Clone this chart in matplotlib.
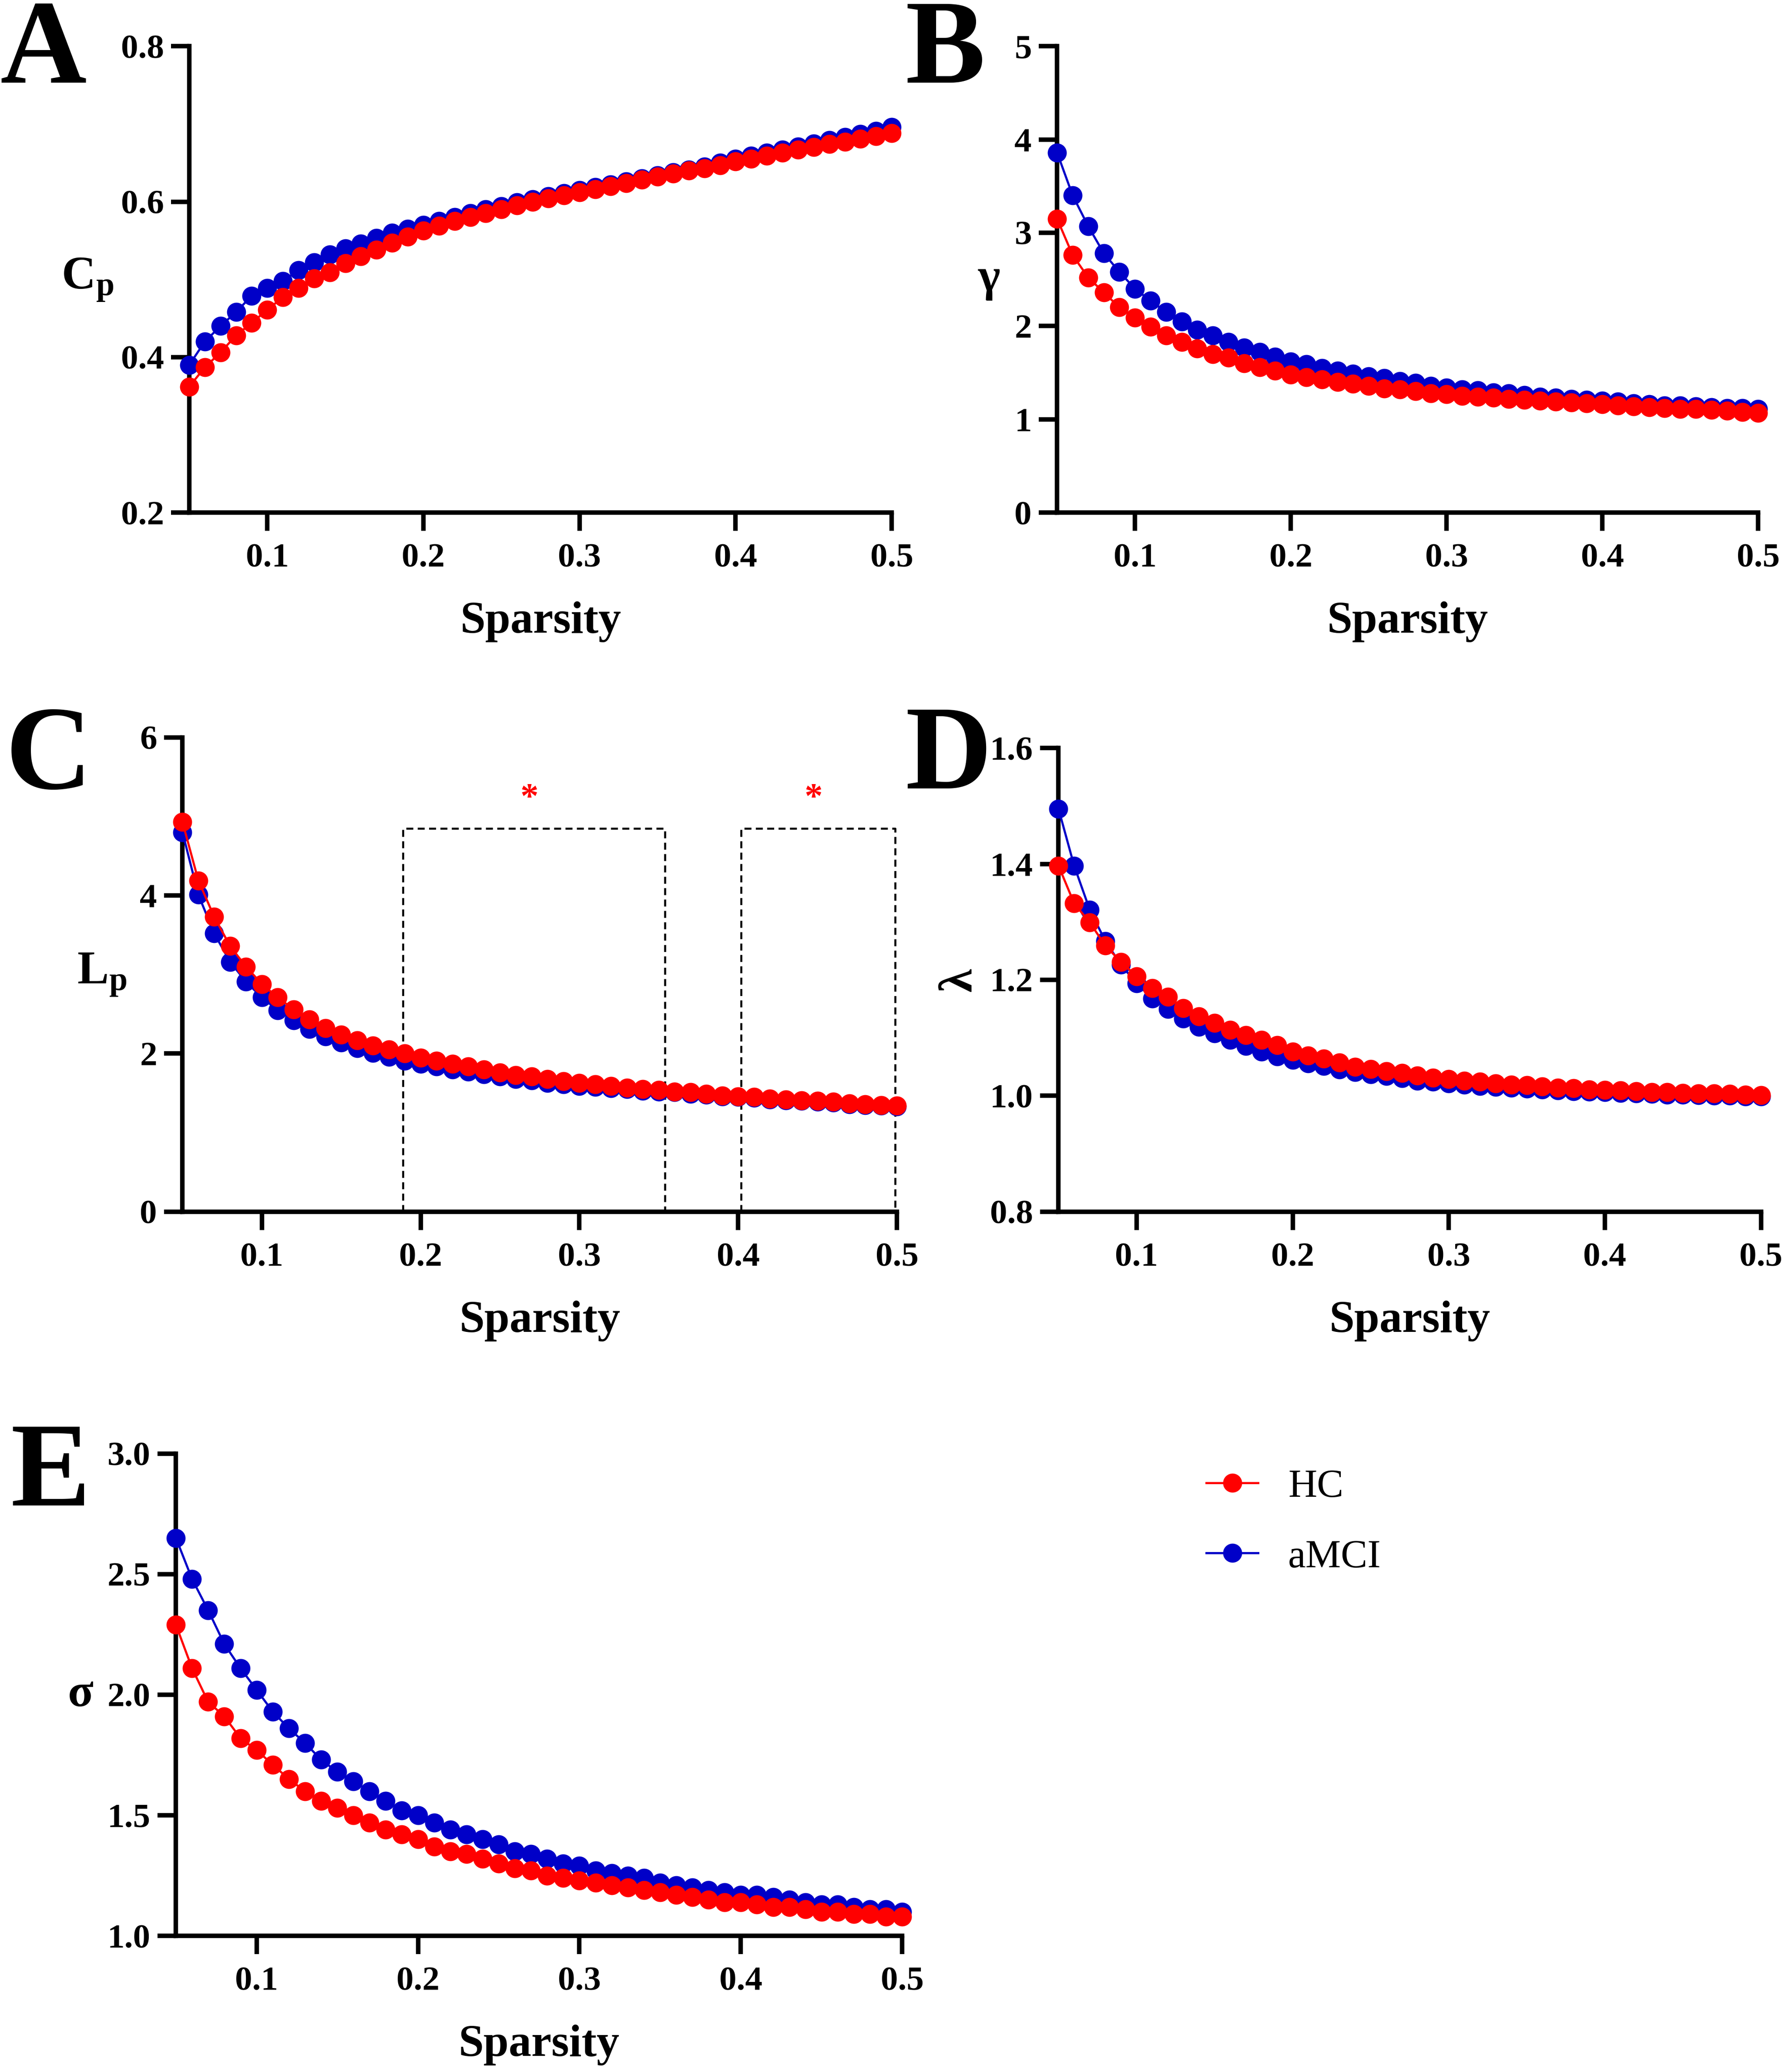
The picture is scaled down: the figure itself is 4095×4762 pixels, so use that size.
"""Small-world network metrics across sparsity thresholds: HC vs aMCI."""

import matplotlib
matplotlib.use("Agg")
import matplotlib.pyplot as plt
import numpy as np

# %% Data
sparsity = np.round(np.linspace(0.05, 0.50, 46), 2)

cp_hc = [0.362, 0.387, 0.406, 0.428, 0.444, 0.461, 0.477, 0.489, 0.501, 0.509,
         0.521, 0.530, 0.538, 0.547, 0.555, 0.563, 0.569, 0.575, 0.580, 0.585,
         0.590, 0.595, 0.600, 0.604, 0.608, 0.612, 0.616, 0.620, 0.624, 0.628,
         0.632, 0.636, 0.640, 0.643, 0.647, 0.652, 0.655, 0.659, 0.663, 0.667,
         0.670, 0.674, 0.677, 0.681, 0.684, 0.688]
cp_amci = [0.390, 0.420, 0.440, 0.458, 0.479, 0.489, 0.498, 0.512, 0.522, 0.532,
           0.540, 0.546, 0.553, 0.560, 0.565, 0.570, 0.575, 0.580, 0.585, 0.590,
           0.594, 0.599, 0.603, 0.607, 0.611, 0.615, 0.619, 0.622, 0.626, 0.630,
           0.634, 0.638, 0.641, 0.645, 0.650, 0.655, 0.659, 0.663, 0.667, 0.671,
           0.675, 0.679, 0.683, 0.687, 0.691, 0.696]

gamma_hc = [3.15, 2.76, 2.52, 2.36, 2.20, 2.09, 1.99, 1.90, 1.83, 1.76,
            1.70, 1.66, 1.60, 1.56, 1.52, 1.48, 1.45, 1.43, 1.40, 1.38,
            1.36, 1.33, 1.32, 1.30, 1.28, 1.27, 1.25, 1.24, 1.23, 1.22,
            1.21, 1.20, 1.19, 1.18, 1.17, 1.16, 1.15, 1.14, 1.13, 1.12,
            1.11, 1.11, 1.10, 1.09, 1.08, 1.07]
gamma_amci = [3.86, 3.40, 3.07, 2.78, 2.58, 2.40, 2.27, 2.15, 2.05, 1.96,
              1.90, 1.83, 1.77, 1.72, 1.67, 1.62, 1.59, 1.55, 1.52, 1.49,
              1.46, 1.44, 1.41, 1.39, 1.36, 1.34, 1.32, 1.31, 1.29, 1.28,
              1.26, 1.24, 1.23, 1.22, 1.21, 1.20, 1.19, 1.17, 1.16, 1.15,
              1.15, 1.14, 1.13, 1.12, 1.12, 1.11]

lp_hc = [4.93, 4.19, 3.73, 3.36, 3.10, 2.88, 2.71, 2.56, 2.43, 2.32,
         2.24, 2.17, 2.10, 2.05, 2.00, 1.95, 1.91, 1.87, 1.84, 1.80,
         1.76, 1.73, 1.71, 1.68, 1.65, 1.63, 1.61, 1.59, 1.57, 1.55,
         1.54, 1.52, 1.51, 1.49, 1.47, 1.46, 1.45, 1.43, 1.42, 1.41,
         1.40, 1.39, 1.37, 1.36, 1.35, 1.34]
lp_amci = [4.80, 4.01, 3.52, 3.16, 2.91, 2.71, 2.55, 2.42, 2.31, 2.22,
           2.14, 2.07, 2.01, 1.96, 1.91, 1.87, 1.84, 1.80, 1.77, 1.74,
           1.71, 1.68, 1.66, 1.63, 1.61, 1.59, 1.58, 1.56, 1.55, 1.53,
           1.52, 1.51, 1.49, 1.48, 1.46, 1.45, 1.44, 1.42, 1.41, 1.40,
           1.39, 1.38, 1.36, 1.35, 1.34, 1.33]

lambda_hc = [1.397, 1.332, 1.299, 1.259, 1.231, 1.206, 1.186, 1.171, 1.151, 1.137,
             1.126, 1.114, 1.105, 1.096, 1.087, 1.076, 1.069, 1.064, 1.057, 1.050,
             1.046, 1.042, 1.039, 1.035, 1.031, 1.029, 1.026, 1.024, 1.021, 1.019,
             1.018, 1.016, 1.014, 1.013, 1.011, 1.010, 1.009, 1.008, 1.006, 1.006,
             1.005, 1.004, 1.004, 1.003, 1.002, 1.001]
lambda_amci = [1.495, 1.397, 1.321, 1.267, 1.226, 1.194, 1.168, 1.150, 1.133, 1.119,
               1.108, 1.096, 1.086, 1.076, 1.068, 1.062, 1.056, 1.051, 1.045, 1.041,
               1.037, 1.034, 1.030, 1.026, 1.024, 1.021, 1.019, 1.017, 1.015, 1.014,
               1.012, 1.011, 1.009, 1.008, 1.007, 1.006, 1.005, 1.004, 1.003, 1.002,
               1.002, 1.001, 1.000, 1.000, 0.999, 0.999]

sigma_hc = [2.29, 2.11, 1.97, 1.91, 1.82, 1.77, 1.71, 1.65, 1.60, 1.56,
            1.53, 1.50, 1.47, 1.44, 1.42, 1.40, 1.37, 1.35, 1.34, 1.32,
            1.30, 1.28, 1.27, 1.25, 1.24, 1.23, 1.22, 1.21, 1.20, 1.19,
            1.18, 1.17, 1.16, 1.15, 1.14, 1.14, 1.13, 1.12, 1.12, 1.11,
            1.10, 1.10, 1.09, 1.09, 1.08, 1.08]
sigma_amci = [2.65, 2.48, 2.35, 2.21, 2.11, 2.02, 1.93, 1.86, 1.80, 1.73,
              1.68, 1.64, 1.60, 1.56, 1.52, 1.50, 1.47, 1.44, 1.42, 1.40,
              1.38, 1.35, 1.34, 1.32, 1.30, 1.29, 1.27, 1.26, 1.25, 1.24,
              1.22, 1.21, 1.20, 1.19, 1.18, 1.17, 1.17, 1.16, 1.15, 1.14,
              1.13, 1.13, 1.12, 1.11, 1.11, 1.10]

# significant sparsity ranges for Lp (panel C)
lp_sig_ranges = [(0.189, 0.354), (0.402, 0.499)]
lp_box_top = 4.85
lp_star_y = 5.22

x_ticks = [0.1, 0.2, 0.3, 0.4, 0.5]

# %% Style
plt.rcParams["font.family"] = ["Liberation Serif", "DejaVu Serif"]
plt.rcParams["font.weight"] = "bold"
plt.rcParams["mathtext.fontset"] = "custom"
plt.rcParams["mathtext.rm"] = "Liberation Serif:bold"
plt.rcParams["mathtext.bf"] = "Liberation Serif:bold"
plt.rcParams["mathtext.it"] = "Liberation Serif:bold"

RED = "#ff0000"
BLUE = "#0000c8"

fig = plt.figure(figsize=(4095 / 300, 4762 / 300), dpi=300)

# letter, [left, bottom, width, height], letter pos (fig coords), ylim, yticks,
# tick format, ylabel, label x (axes coords), rotation, HC, aMCI
panels = [
    ("A", [0.1062, 0.7526, 0.3942, 0.2251], (0.000, 0.9600), (0.2, 0.8),
     [0.2, 0.4, 0.6, 0.8], "{:.1f}", r"$\mathbf{C_p}$", -0.145, 0, cp_hc, cp_amci),
    ("B", [0.5932, 0.7526, 0.3934, 0.2251], (0.508, 0.9600), (0, 5),
     [0, 1, 2, 3, 4, 5], "{:.0f}", "γ", -0.097, 0, gamma_hc, gamma_amci),
    ("C", [0.1024, 0.4152, 0.4009, 0.2289], (0.003, 0.6195), (0, 6),
     [0, 2, 4, 6], "{:.0f}", r"$\mathbf{L_p}$", -0.113, 0, lp_hc, lp_amci),
    ("D", [0.5940, 0.4152, 0.3942, 0.2238], (0.508, 0.6195), (0.8, 1.6),
     [0.8, 1.0, 1.2, 1.4, 1.6], "{:.1f}", "λ", -0.141, 90, lambda_hc, lambda_amci),
    ("E", [0.0987, 0.0657, 0.4076, 0.2328], (0.006, 0.2735), (1.0, 3.0),
     [1.0, 1.5, 2.0, 2.5, 3.0], "{:.1f}", "σ", -0.131, 0, sigma_hc, sigma_amci),
]

axes = {}
for (letter, rect, letter_xy, ylim, yticks, fmt, ylabel, lab_x, rot,
     hc, amci) in panels:
    ax = fig.add_axes(rect)
    axes[letter] = ax
    ax.plot(sparsity, amci, "-o", color=BLUE, lw=1.2, ms=10.5, mew=0,
            clip_on=False, zorder=3, label="aMCI")
    ax.plot(sparsity, hc, "-o", color=RED, lw=1.2, ms=10.5, mew=0,
            clip_on=False, zorder=4, label="HC")

    ax.set_xlim(0.05, 0.5)
    ax.set_ylim(*ylim)
    ax.set_xticks(x_ticks)
    ax.set_xticklabels([f"{t:.1f}" for t in x_ticks])
    ax.set_yticks(yticks)
    ax.set_yticklabels([fmt.format(t) for t in yticks])
    for side in ("top", "right"):
        ax.spines[side].set_visible(False)
    for side in ("left", "bottom"):
        ax.spines[side].set_linewidth(2.5)
    ax.tick_params(axis="both", direction="out", length=10, width=2.5,
                   labelsize=19)
    ax.tick_params(axis="x", pad=7)
    ax.tick_params(axis="y", pad=4)

    ax.set_xlabel("Sparsity", fontsize=25, fontweight="bold", labelpad=15)
    ax.set_ylabel(ylabel, fontsize=26, fontweight="bold", rotation=rot,
                  ha="center", va="center")
    ax.yaxis.set_label_coords(lab_x, 0.5)

    fig.text(letter_xy[0], letter_xy[1], letter, fontsize=66,
             fontweight="bold", ha="left", va="baseline")

# significance boxes in panel C
axC = axes["C"]
for x0, x1 in lp_sig_ranges:
    axC.plot([x0, x0, x1, x1], [0, lp_box_top, lp_box_top, 0], color="black",
             lw=1.1, ls=(0, (3.5, 2.2)), clip_on=False, zorder=2)
    axC.text((x0 + x1) / 2 - 0.003, lp_star_y, "*", color=RED, fontsize=20,
             fontweight="bold", ha="center", va="center")

# legend
handles, labels = axes["E"].get_legend_handles_labels()
fig.legend(handles[::-1], labels[::-1], loc="upper left",
           bbox_to_anchor=(0.677, 0.291), frameon=False, borderpad=0,
           borderaxespad=0, handlelength=1.3, handletextpad=0.75,
           labelspacing=0.85, prop={"family": "Liberation Serif",
                                    "weight": "normal", "size": 22})

fig.savefig("out.png", dpi=300)
